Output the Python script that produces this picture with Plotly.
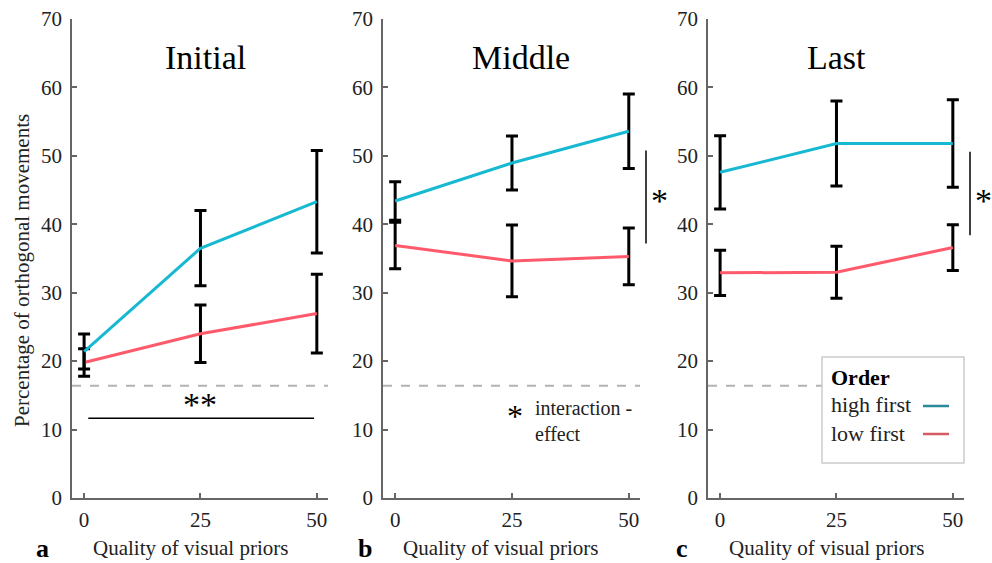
import plotly.graph_objects as go

# Quality of visual priors (x) and panels
quality = [0, 25, 50]
panels = ["Initial", "Middle", "Last"]
panel_letters = ["a", "b", "c"]

# Percentage of orthogonal movements: means and error half-widths
high_first = {
    "Initial": [21.4, 36.5, 43.3],
    "Middle": [43.4, 48.95, 53.6],
    "Last": [47.6, 51.8, 51.8],
}
high_first_err = {
    "Initial": [2.55, 5.5, 7.5],
    "Middle": [2.8, 3.95, 5.45],
    "Last": [5.35, 6.2, 6.4],
}
low_first = {
    "Initial": [19.8, 24.0, 26.95],
    "Middle": [36.9, 34.65, 35.3],
    "Last": [32.9, 33.0, 36.6],
}
low_first_err = {
    "Initial": [2.0, 4.2, 5.75],
    "Middle": [3.4, 5.25, 4.15],
    "Last": [3.3, 3.8, 3.35],
}
chance_level = 16.4
y_ticks = [0, 10, 20, 30, 40, 50, 60, 70]
x_ticks = [0, 25, 50]

# Significance markers
main_effect_y = 11.65          # "**" bar in Initial panel
main_effect_span = [0.9, 49.4]
interaction_span = {"Middle": [37.2, 50.8], "Last": [38.4, 50.6]}

HIGH_COLOR = "#17b9d2"
LOW_COLOR = "#ff5a6c"
SERIF = "Liberation Serif, Times New Roman, serif"
W, H = 992, 563

# Panel placement in pixels
px_domains = [(72, 328), (383, 640), (708, 964)]
y_top_px, y_bot_px = 19, 498


def px_x(p):
    return p / W


def px_y(p):
    return 1 - p / H


fig = go.Figure()

for i, name in enumerate(panels):
    xa = "x" if i == 0 else f"x{i + 1}"
    ya = "y" if i == 0 else f"y{i + 1}"
    # chance level
    fig.add_trace(go.Scatter(
        x=[-2.6, 52.4], y=[chance_level, chance_level], mode="lines",
        line=dict(color="#b3b3b3", width=2, dash="dash"),
        xaxis=xa, yaxis=ya, showlegend=False, hoverinfo="skip"))
    fig.add_trace(go.Scatter(
        x=quality, y=low_first[name], mode="lines",
        line=dict(color=LOW_COLOR, width=3),
        error_y=dict(type="data", array=low_first_err[name], color="black",
                     thickness=3, width=6),
        xaxis=xa, yaxis=ya, showlegend=False, name="low first"))
    fig.add_trace(go.Scatter(
        x=quality, y=high_first[name], mode="lines",
        line=dict(color=HIGH_COLOR, width=3),
        error_y=dict(type="data", array=high_first_err[name], color="black",
                     thickness=3, width=6),
        xaxis=xa, yaxis=ya, showlegend=False, name="high first"))

axis_common = dict(
    showline=True, linecolor="#666666", linewidth=1.5,
    ticks="inside", ticklen=5, tickcolor="#666666", tickwidth=1.5,
    showgrid=False, zeroline=False, automargin=False,
    tickfont=dict(family=SERIF, size=21, color="#222222"),
)

layout = dict(
    width=W, height=H, margin=dict(l=0, r=0, t=0, b=0, autoexpand=False),
    paper_bgcolor="white", plot_bgcolor="white", showlegend=False,
)
for i in range(3):
    sx = "" if i == 0 else str(i + 1)
    x0, x1 = px_domains[i]
    layout[f"xaxis{sx}"] = dict(
        axis_common, domain=[px_x(x0), px_x(x1)], range=[-2.6, 52.4],
        tickvals=x_ticks, anchor=f"y{sx}", ticklabelstandoff=2)
    layout[f"yaxis{sx}"] = dict(
        axis_common, domain=[px_y(y_bot_px), px_y(y_top_px)], range=[0, 70],
        tickvals=y_ticks, anchor=f"x{sx}", ticklabelstandoff=4)
fig.update_layout(**layout)

annotations = []
shapes = []

title_x = [205, 521, 836]
xlabel_x = [190, 501, 826]
letter_x = [42, 365, 682]
for i, name in enumerate(panels):
    annotations.append(dict(
        text=name, x=px_x(title_x[i]), y=px_y(58), xref="paper", yref="paper",
        showarrow=False, xanchor="center", yanchor="middle",
        font=dict(family=SERIF, size=34, color="black")))
    annotations.append(dict(
        text="Quality of visual priors", x=px_x(xlabel_x[i]), y=px_y(548),
        xref="paper", yref="paper", showarrow=False,
        xanchor="center", yanchor="middle",
        font=dict(family=SERIF, size=21, color="#222222")))
    annotations.append(dict(
        text=f"<b>{panel_letters[i]}</b>", x=px_x(letter_x[i]), y=px_y(548),
        xref="paper", yref="paper", showarrow=False,
        xanchor="center", yanchor="middle",
        font=dict(family=SERIF, size=26, color="black")))

annotations.append(dict(
    text="Percentage of orthogonal movements", x=px_x(22), y=px_y(271),
    xref="paper", yref="paper", showarrow=False, textangle=-90,
    xanchor="center", yanchor="middle",
    font=dict(family=SERIF, size=21, color="#222222")))

# "**" main effect in the Initial panel
shapes.append(dict(type="line", xref="x", yref="y",
                   x0=main_effect_span[0], x1=main_effect_span[1],
                   y0=main_effect_y, y1=main_effect_y,
                   line=dict(color="black", width=1.5)))
annotations.append(dict(text="**", x=25, y=main_effect_y - 0.95, xref="x", yref="y",
                        showarrow=False, yanchor="bottom",
                        font=dict(family=SERIF, size=34, color="black")))

# interaction bars to the right of the Middle and Last panels
for i, name in [(1, "Middle"), (2, "Last")]:
    sx = str(i + 1)
    line_px = px_domains[i][1] + 6
    lo, hi = interaction_span[name]
    shapes.append(dict(type="line", xref="paper", yref=f"y{sx}",
                       x0=px_x(line_px), x1=px_x(line_px), y0=lo, y1=hi,
                       line=dict(color="black", width=1.5)))
    annotations.append(dict(text="*", x=px_x(line_px + 13), y=px_y(200),
                            xref="paper", yref="paper", showarrow=False,
                            xanchor="center", yanchor="middle",
                            font=dict(family=SERIF, size=34, color="black")))

# interaction note in the Middle panel
annotations.append(dict(text="*", x=px_x(515), y=px_y(416), xref="paper", yref="paper",
                        showarrow=False, xanchor="center", yanchor="middle",
                        font=dict(family=SERIF, size=32, color="black")))
annotations.append(dict(text="interaction -<br>effect", x=px_x(533), y=px_y(395),
                        xref="paper", yref="paper", showarrow=False,
                        xanchor="left", yanchor="top", align="left",
                        font=dict(family=SERIF, size=20, color="#222222")))

# legend box in the Last panel
shapes.append(dict(type="rect", xref="paper", yref="paper",
                   x0=px_x(822), x1=px_x(964), y0=px_y(463), y1=px_y(357),
                   fillcolor="white", line=dict(color="#cccccc", width=1.5),
                   layer="above"))
annotations.append(dict(text="<b>Order</b>", x=px_x(829), y=px_y(377),
                        xref="paper", yref="paper", showarrow=False,
                        xanchor="left", yanchor="middle",
                        font=dict(family=SERIF, size=22, color="black")))
for label, col, ypx in [("high first", "#2a8a98", 405), ("low first", "#d65a66", 433)]:
    annotations.append(dict(text=label, x=px_x(829), y=px_y(ypx),
                            xref="paper", yref="paper", showarrow=False,
                            xanchor="left", yanchor="middle",
                            font=dict(family=SERIF, size=22, color="#222222")))
    shapes.append(dict(type="line", xref="paper", yref="paper",
                       x0=px_x(923), x1=px_x(949), y0=px_y(ypx + 1), y1=px_y(ypx + 1),
                       line=dict(color=col, width=2.5), layer="above"))

fig.update_layout(annotations=annotations, shapes=shapes)
fig.write_html("out.html")
